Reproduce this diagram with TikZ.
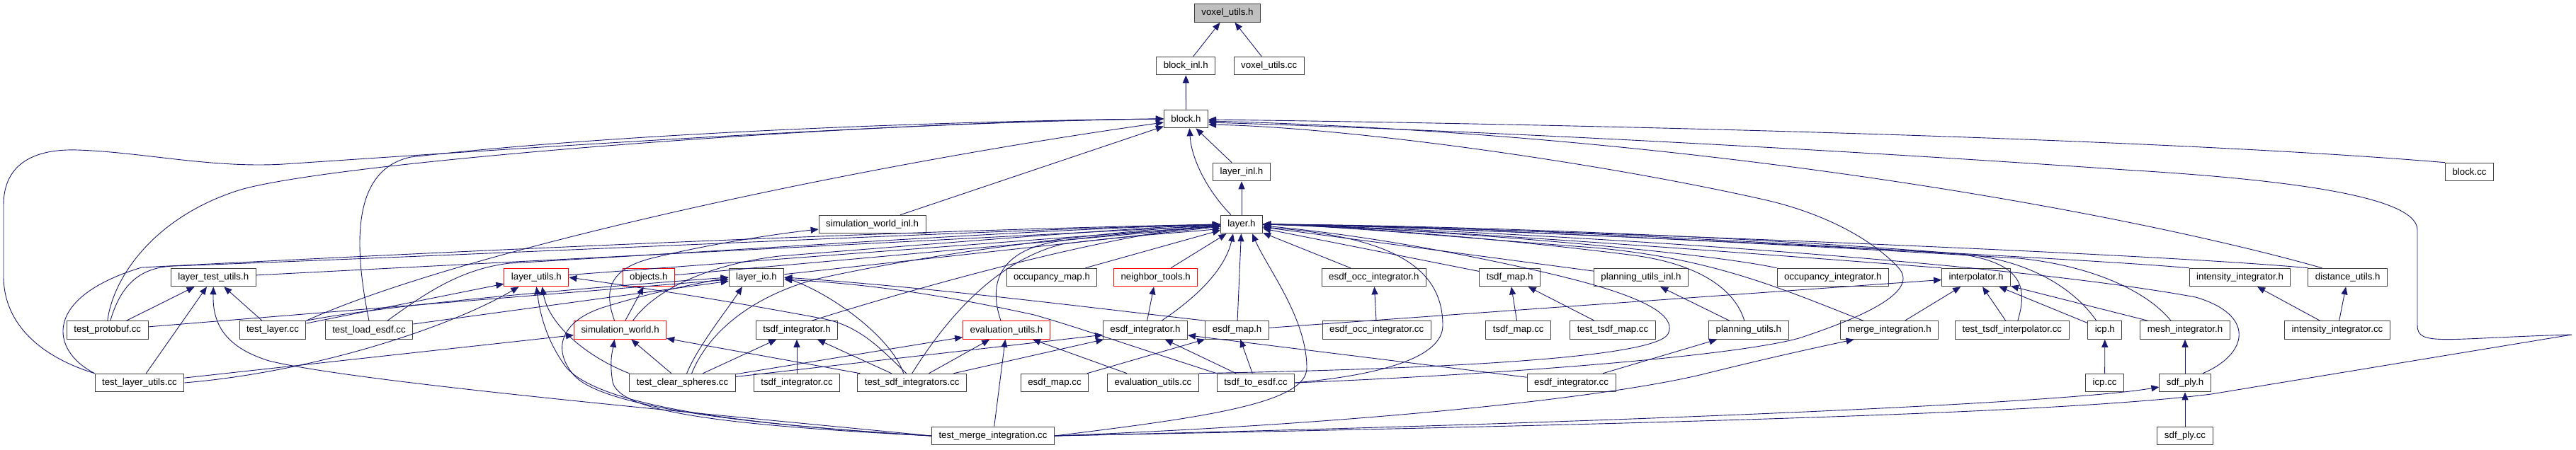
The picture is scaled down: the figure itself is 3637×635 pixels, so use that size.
\documentclass[tikz,border=0pt]{standalone}
\usepackage{fontspec}
\newfontfamily\graphfont{Liberation Sans}
\usetikzlibrary{arrows.meta}
\definecolor{edgeNavy}{HTML}{191970}
\definecolor{boxGrey}{HTML}{404040}
\definecolor{rootGrey}{HTML}{BFBFBF}
\definecolor{truncRed}{HTML}{FF0000}
\tikzset{
  incbox/.style  = {draw=boxGrey, fill=white, line width=1pt, inner xsep=10pt, inner ysep=2pt,
                    minimum height=25.6pt, font=\graphfont\fontsize{13.3}{16}\selectfont},
  rootbox/.style = {fill=rootGrey},
  redbox/.style  = {draw=truncRed},
  incl/.style    = {-{Triangle[length=11pt,width=9pt]}, draw=edgeNavy, line width=0.9pt}
}

\begin{document}
\begin{tikzpicture}[x=1pt, y=-1pt]
  \path[fill=white, use as bounding box] (0,0) rectangle (3637,635);

  % ranks 0 to 4
  \node[incbox, rootbox] (voxutils) at (1733,18.5) {voxel\_utils.h};
  \node[incbox] (blockinl)    at (1674.3,93) {block\_inl.h};
  \node[incbox] (voxutilscc)  at (1791.7,93) {voxel\_utils.cc};
  \node[incbox] (block)       at (1674.5,168) {block.h};
  \node[incbox] (layerinl)    at (1753,243) {layer\_inl.h};
  \node[incbox] (blockcc)     at (3486.5,243) {block.cc};
  \node[incbox] (simworldinl) at (1231.6,317) {simulation\_world\_inl.h};
  \node[incbox] (layer)       at (1753,317) {layer.h};

  % rank 5
  \node[incbox] (layertestutils) at (301.3,392) {layer\_test\_utils.h};
  \node[incbox, redbox] (layerutils) at (757.4,392) {layer\_utils.h};
  \node[incbox, redbox] (objects)    at (915.8,392) {objects.h};
  \node[incbox] (layerio)        at (1068,392) {layer\_io.h};
  \node[incbox] (occmap)         at (1485,392) {occupancy\_map.h};
  \node[incbox, redbox] (neighbortools) at (1631.7,392) {neighbor\_tools.h};
  \node[incbox] (esdfoccint)     at (1939.8,392) {esdf\_occ\_integrator.h};
  \node[incbox] (tsdfmap)        at (2131.7,392) {tsdf\_map.h};
  \node[incbox] (planutilsinl)   at (2317,392) {planning\_utils\_inl.h};
  \node[incbox] (occint)         at (2587.8,392) {occupancy\_integrator.h};
  \node[incbox] (interp)         at (2790,392) {interpolator.h};
  \node[incbox] (intensityint)   at (3162.5,392) {intensity\_integrator.h};
  \node[incbox] (distutils)      at (3314.7,392) {distance\_utils.h};

  % rank 6
  \node[incbox] (testprotobuf)   at (151.8,466.5) {test\_protobuf.cc};
  \node[incbox] (testlayer)      at (385,466.5) {test\_layer.cc};
  \node[incbox] (testloadesdf)   at (521,466.5) {test\_load\_esdf.cc};
  \node[incbox, redbox] (simworld) at (875.6,466.5) {simulation\_world.h};
  \node[incbox] (tsdfint)        at (1125,466.5) {tsdf\_integrator.h};
  \node[incbox, redbox] (evalutils) at (1421,466.5) {evaluation\_utils.h};
  \node[incbox] (esdfint)        at (1617,466.5) {esdf\_integrator.h};
  \node[incbox] (esdfmap)        at (1746.5,466.5) {esdf\_map.h};
  \node[incbox] (esdfocccc)      at (1943.7,466.5) {esdf\_occ\_integrator.cc};
  \node[incbox] (tsdfmapcc)      at (2143.7,466.5) {tsdf\_map.cc};
  \node[incbox] (testtsdfmap)    at (2277,466.5) {test\_tsdf\_map.cc};
  \node[incbox] (planutils)      at (2468.8,466.5) {planning\_utils.h};
  \node[incbox] (mergeint)       at (2667.6,466.5) {merge\_integration.h};
  \node[incbox] (testtsdfinterp) at (2840.8,466.5) {test\_tsdf\_interpolator.cc};
  \node[incbox] (icp)            at (2971.8,466.5) {icp.h};
  \node[incbox] (meshint)        at (3085,466.5) {mesh\_integrator.h};
  \node[incbox] (intensitycc)    at (3300,466.5) {intensity\_integrator.cc};

  % rank 7 and 8
  \node[incbox] (testlayerutils)   at (197,541) {test\_layer\_utils.cc};
  \node[incbox] (testclearspheres) at (963.6,541) {test\_clear\_spheres.cc};
  \node[incbox] (tsdfintcc)        at (1125,541) {tsdf\_integrator.cc};
  \node[incbox] (testsdfint)       at (1287.7,541) {test\_sdf\_integrators.cc};
  \node[incbox] (esdfmapcc)        at (1489,541) {esdf\_map.cc};
  \node[incbox] (evalutilscc)      at (1628,541) {evaluation\_utils.cc};
  \node[incbox] (tsdftoesdf)       at (1773,541) {tsdf\_to\_esdf.cc};
  \node[incbox] (esdfintcc)        at (2218.5,541) {esdf\_integrator.cc};
  \node[incbox] (icpcc)            at (2971.6,541) {icp.cc};
  \node[incbox] (sdfply)           at (3085,541) {sdf\_ply.h};
  \node[incbox] (testmergeint)     at (1402,616) {test\_merge\_integration.cc};
  \node[incbox] (sdfplycc)         at (3085,616) {sdf\_ply.cc};

  % straight edges
  \foreach \a/\b in {blockinl/voxutils, voxutilscc/voxutils, block/blockinl, layerinl/block,
      layer/layerinl, simworldinl/block}
    \draw[incl] (\a) -- (\b);
  \foreach \a in {layertestutils, layerutils, objects, layerio, occmap, neighbortools, esdfmap,
      esdfoccint, tsdfmap, planutilsinl}
    \draw[incl] (\a) -- (layer);
  \foreach \a/\b in {testprotobuf/layertestutils, testlayerutils/layertestutils,
      testlayer/layertestutils, testlayer/layerutils, testprotobuf/layerio, testloadesdf/layerio,
      testlayerutils/simworld, simworld/objects, testclearspheres/simworld, testsdfint/simworld,
      testclearspheres/tsdfint, tsdfintcc/tsdfint, testsdfint/tsdfint, testclearspheres/evalutils,
      testclearspheres/esdfint, testsdfint/evalutils, testsdfint/esdfint, testmergeint/evalutils,
      evalutilscc/evalutils, esdfint/neighbortools, esdfmapcc/esdfmap, tsdftoesdf/esdfint,
      tsdftoesdf/esdfmap, esdfintcc/esdfint, esdfintcc/planutils, planutils/planutilsinl,
      esdfocccc/esdfoccint, tsdfmapcc/tsdfmap, testtsdfmap/tsdfmap, esdfmap/interp, mergeint/interp,
      testtsdfinterp/interp, icp/interp, meshint/interp, icpcc/icp, sdfply/meshint, sdfplycc/sdfply,
      intensitycc/intensityint, intensitycc/distutils}
    \draw[incl] (\a) -- (\b);

  % into block.h
  \draw[incl] ([xshift=-15pt]layer.north) .. controls (1705,270) and (1682,225) .. ([xshift=5pt]block.south);
  \draw[incl] (testlayerutils.north west) .. controls (60,505) and (5,460) .. (5,390) -- (5,290)
    .. controls (5,230) and (50,210) .. (110,212) .. controls (200,215) and (300,238) .. (400,232)
    .. controls (800,205) and (1300,172) .. (block.west);
  \draw[incl] (testprotobuf.north) .. controls (160,390) and (220,305) .. (340,268)
    .. controls (480,228) and (1200,172) .. (block.west);
  \draw[incl] (testloadesdf.north) .. controls (500,350) and (495,240) .. (580,222)
    .. controls (900,185) and (1400,170) .. (block.west);
  \draw[incl] (testlayer.north east) .. controls (650,355) and (1200,235) .. ([yshift=-5pt]block.west);
  \draw[incl] (blockcc.north west) .. controls (3100,200) and (2400,178) .. ([yshift=-1pt]block.east);
  \draw[incl] ([xshift=20pt]distutils.north west) .. controls (3000,300) and (2400,190) .. ([yshift=-3pt]block.east);
  \draw[incl] (testmergeint.east) .. controls (2300,600) and (2900,585) .. (3122,557) -- (3631,473)
    .. controls (3450,478) and (3413,490) .. (3413,460) -- (3413,325)
    .. controls (3413,280) and (3250,255) .. (3000,240) .. controls (2600,212) and (2100,185) .. ([yshift=-5pt]block.east);
  \draw[incl] (tsdftoesdf.east) .. controls (2100,530) and (2440,505) .. (2540,478)
    .. controls (2640,445) and (2710,410) .. (2680,378) .. controls (2640,335) and (2570,300) .. (2490,282)
    .. controls (2250,228) and (1900,180) .. ([yshift=-8pt]block.east);

  % into layer.h from the left
  \draw[incl] ([xshift=4pt]testprotobuf.north) .. controls (170,405) and (195,378) .. (245,376)
    .. controls (800,355) and (1400,325) .. (layer.west);
  \draw[incl] (testlayerutils.north west) .. controls (70,495) and (60,420) .. (200,378)
    .. controls (700,352) and (1300,325) .. (layer.west);
  \draw[incl] ([xshift=26pt]testloadesdf.north) .. controls (600,415) and (650,380) .. (720,372)
    .. controls (1100,350) and (1450,325) .. (layer.west);
  \draw[incl] ([xshift=18pt]simworld.north) .. controls (920,415) and (990,375) .. (1100,362)
    .. controls (1400,338) and (1600,322) .. (layer.west);
  \draw[incl] ([xshift=21pt]tsdfint.north) .. controls (1300,405) and (1550,335) .. (layer.west);
  \draw[incl] ([xshift=13pt]testclearspheres.north) .. controls (1000,470) and (1060,420) .. (1150,395)
    .. controls (1350,350) and (1600,325) .. (layer.west);
  \draw[incl] (testsdfint.north) .. controls (1330,460) and (1400,370) .. (1500,345)
    .. controls (1600,332) and (1680,328) .. ([yshift=-6pt]layer.west);
  \draw[incl] ([xshift=-8pt]evalutils.north) .. controls (1395,400) and (1410,352) .. (1500,340)
    .. controls (1600,328) and (1680,322) .. ([yshift=-3pt]layer.west);
  \draw[incl] ([xshift=23pt]esdfint.north) .. controls (1690,420) and (1730,380) .. ([xshift=-12pt]layer.south);

  % into layer.h from the right
  \draw[incl] (occint.north west) .. controls (2400,355) and (2000,322) .. (layer.east);
  \draw[incl] (interp.north west) .. controls (2500,360) and (2000,322) .. (layer.east);
  \draw[incl] ([xshift=-6pt]planutils.north) .. controls (2450,410) and (2400,372) .. (2300,360)
    .. controls (2100,335) and (1900,320) .. (layer.east);
  \draw[incl] ([xshift=-37pt]mergeint.north) .. controls (2520,410) and (2420,365) .. (2250,350)
    .. controls (2050,335) and (1900,320) .. (layer.east);
  \draw[incl] ([xshift=8pt]testtsdfinterp.north) .. controls (2865,400) and (2850,370) .. (2760,358)
    .. controls (2400,330) and (2000,318) .. (layer.east);
  \draw[incl] ([xshift=-12pt]icp.north) .. controls (2930,410) and (2870,370) .. (2780,360)
    .. controls (2400,335) and (2000,318) .. (layer.east);
  \draw[incl] ([xshift=-20pt]meshint.north) .. controls (3030,410) and (2950,375) .. (2850,365)
    .. controls (2400,338) and (2000,320) .. (layer.east);
  \draw[incl] ([xshift=25pt]sdfply.north) .. controls (3175,500) and (3185,445) .. (3100,420)
    .. controls (2800,365) and (2100,325) .. (layer.east);
  \draw[incl] (intensityint.north west) .. controls (2900,362) and (2000,318) .. (layer.east);
  \draw[incl] (distutils.north west) .. controls (3000,355) and (2000,318) .. (layer.east);

  % into layer.h from below
  \draw[incl] (testmergeint.east) .. controls (1700,590) and (1845,570) .. (1845,520)
    .. controls (1845,450) and (1790,380) .. ([xshift=15pt]layer.south);
  \draw[incl] (tsdftoesdf.east) .. controls (1950,530) and (2037,505) .. (2037,460)
    .. controls (2037,380) and (1970,335) .. ([yshift=-4pt]layer.east);
  \draw[incl] (evalutilscc.north east) .. controls (2000,522) and (2335,508) .. (2355,472)
    .. controls (2375,432) and (2250,400) .. (2150,378) .. controls (2000,345) and (1880,328) .. ([yshift=-2pt]layer.east);

  % remaining curved edges
  \draw[incl] (testmergeint.west) .. controls (1000,585) and (500,540) .. (380,510)
    .. controls (315,490) and (300,455) .. (layertestutils.south);
  \draw[incl] (testmergeint.west) .. controls (1050,600) and (850,575) .. (800,520)
    .. controls (770,480) and (762,440) .. (layerutils.south);
  \draw[incl] (testmergeint.west) .. controls (1000,600) and (875,580) .. (865,540)
    .. controls (860,510) and (865,495) .. ([xshift=-8pt]simworld.south);
  \draw[incl] (testmergeint.west) .. controls (1050,600) and (850,575) .. (810,530)
    .. controls (780,495) and (790,455) .. (850,435) .. controls (930,410) and (990,400) .. (layerio.west);
  \draw[incl] (testclearspheres.north west) .. controls (830,505) and (775,460) .. ([xshift=8pt]layerutils.south);
  \draw[incl] (testlayerutils.east) .. controls (450,525) and (640,460) .. ([xshift=-25pt]layerutils.south);
  \draw[incl] ([xshift=-8pt]testsdfint.north) .. controls (1245,495) and (1215,460) .. (1160,450)
    .. controls (1000,420) and (880,403) .. (layerutils.east);
  \draw[incl] ([xshift=-12pt]testsdfint.north) .. controls (1260,480) and (1180,418) .. (layerio.east);
  \draw[incl] (testlayer.north east) .. controls (550,430) and (850,405) .. (layerio.west);
  \draw[incl] ([xshift=6pt]testclearspheres.north) .. controls (985,490) and (1025,440) .. ([xshift=-20pt]layerio.south);
  \draw[incl] (esdfmap.north west) .. controls (1500,430) and (1300,405) .. (layerio.east);
  \draw[incl] (tsdftoesdf.north west) .. controls (1600,490) and (1520,462) .. (1460,445)
    .. controls (1300,410) and (1200,400) .. ([yshift=-3pt]layerio.east);
  \draw[incl] ([xshift=-8pt]simworld.north) .. controls (852,410) and (860,380) .. (920,365)
    .. controls (1000,345) and (1100,330) .. ([yshift=-7pt]simworldinl.west);
  \draw[incl] (testmergeint.east) .. controls (2200,600) and (2900,572) .. ([yshift=-6pt]sdfply.west);
  \draw[incl] (testmergeint.east) .. controls (1900,600) and (2250,565) .. (2400,530)
    .. controls (2500,505) and (2570,490) .. ([xshift=-50pt]mergeint.south);
\end{tikzpicture}
\end{document}
